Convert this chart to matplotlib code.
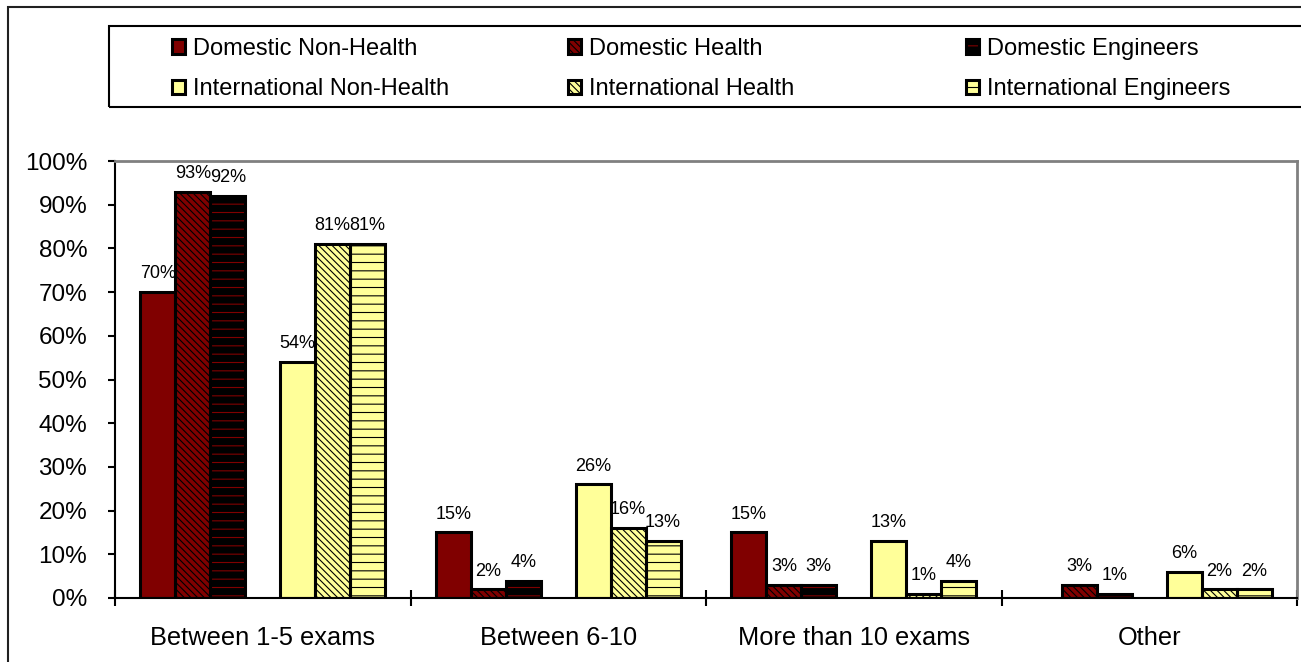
import numpy as np
import matplotlib.pyplot as plt
from matplotlib.patches import Rectangle
from matplotlib.legend_handler import HandlerTuple

plt.rcParams['font.family'] = ['Liberation Sans', 'DejaVu Sans']
plt.rcParams['hatch.linewidth'] = 0.8

W, H = 1301, 662

categories = ["Between 1-5 exams", "Between 6-10", "More than 10 exams", "Other"]
series_names = ["Domestic Non-Health", "Domestic Health", "Domestic Engineers",
                "International Non-Health", "International Health", "International Engineers"]
domestic_non_health = [70, 15, 15, np.nan]
domestic_health = [93, 2, 3, 3]
domestic_engineers = [92, 4, 3, 1]
international_non_health = [54, 26, 13, 6]
international_health = [81, 16, 1, 2]
international_engineers = [81, 13, 4, 2]
series_values = [domestic_non_health, domestic_health, domestic_engineers,
                 international_non_health, international_health, international_engineers]
y_ticks = [0, 10, 20, 30, 40, 50, 60, 70, 80, 90, 100]
y_tick_labels = ["0%", "10%", "20%", "30%", "40%", "50%", "60%", "70%", "80%", "90%", "100%"]

face_colors = ['#800000', '#800000', '#000000', '#FFFF99', '#FFFF99', '#FFFF99']
hatch_colors = ['#800000', '#000000', '#800000', '#FFFF99', '#000000', '#000000']
hatches = [None, '\\\\\\\\\\', '--', None, '\\\\\\\\\\', '--']
slots = [0, 1, 2, 4, 5, 6]

fig = plt.figure(figsize=(W / 100, H / 100), dpi=100)
ax = fig.add_axes([115 / W, 1 - 598 / H, (1297 - 115) / W, (598 - 161) / H])

x = np.arange(len(categories))
w = 35 / 296
handles = []
for vals, fc, hc, h, slot in zip(series_values, face_colors, hatch_colors, hatches, slots):
    off = (slot - 3) * w
    v = np.array(vals, dtype=float) / 100
    b1 = ax.bar(x + off, v, w, color=fc, edgecolor=hc, hatch=h, linewidth=0, zorder=2)
    b2 = ax.bar(x + off, v, w, fill=False, edgecolor='black', linewidth=2.2, zorder=3)
    handles.append((b1, b2))
    for xi, vi in zip(x + off, v):
        if not np.isnan(vi):
            ax.annotate(f"{vi * 100:.0f}%", (xi, vi), xytext=(0, 7), textcoords='offset points',
                        ha='center', va='bottom', fontsize=13, zorder=5)

ax.set_xlim(-0.5, len(categories) - 0.5)
ax.set_ylim(0, 1)
ax.set_yticks(np.array(y_ticks) / 100, y_tick_labels)
ax.tick_params(axis='y', length=5, width=1.5, pad=15, labelsize=17.5)
ax.set_xticks(x, categories)
ax.tick_params(axis='x', which='major', length=0, pad=20, labelsize=18.3)
ax.set_xticks(np.arange(len(categories) + 1) - 0.5, minor=True)
ax.tick_params(axis='x', which='minor', length=12, width=1.5, direction='inout')

for s in ['top', 'right']:
    ax.spines[s].set_color('#808080')
    ax.spines[s].set_linewidth(2)
for s in ['left', 'bottom']:
    ax.spines[s].set_color('black')
    ax.spines[s].set_linewidth(1.5)

# Outer chart frame
fig.add_artist(Rectangle((8 / W, -0.1), 1.2, 1 - 7 / H + 0.1, transform=fig.transFigure,
                         fill=False, edgecolor='#202020', linewidth=1.5))
# Legend frame
fig.add_artist(Rectangle((109 / W, 1 - 107 / H), 1.2, (107 - 26) / H, transform=fig.transFigure,
                         fill=False, edgecolor='black', linewidth=1.5))

fs = 17
fpx = fs * 100 / 72
col_x = [172, 568, 966]
for c in range(3):
    hs = [handles[c], handles[c + 3]]
    ls = [series_names[c], series_names[c + 3]]
    fig.legend(hs, ls, loc='center left', bbox_to_anchor=(col_x[c] / W, 1 - 69 / H),
               frameon=False, fontsize=fs, borderpad=0, borderaxespad=0,
               handlelength=13 / fpx, handleheight=13 / fpx, handletextpad=8 / fpx,
               labelspacing=0.77, handler_map={tuple: HandlerTuple(ndivide=1)})

fig.savefig('out.png', dpi=100)
